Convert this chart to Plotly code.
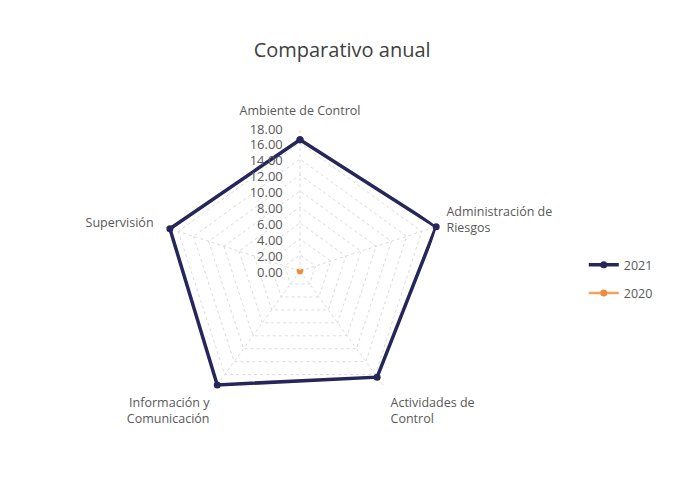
import plotly.graph_objects as go

categories = ["Ambiente de Control", "Administración de<br>Riesgos", "Actividades de<br>Control",
              "Información y<br>Comunicación", "Supervisión"]
values_2021 = [16.4, 17.9, 16.4, 17.6, 17.1]
values_2020 = [0, 0, 0, 0, 0]
radial_ticks = [0, 2, 4, 6, 8, 10, 12, 14, 16, 18]

W, H = 675, 483
cx, cy, R = 292, 263, 144

fig = go.Figure()
fig.add_trace(go.Scatterpolar(
    r=values_2021 + values_2021[:1], theta=categories + categories[:1],
    mode="lines+markers", name="2021", legendgroup="a", cliponaxis=False,
    line=dict(color="#26265a", width=3.5), marker=dict(size=7, color="#26265a")))
fig.add_trace(go.Scatterpolar(
    r=values_2020 + values_2020[:1], theta=categories + categories[:1],
    mode="lines+markers", name="2020", legendgroup="b",
    line=dict(color="#f2a25c", width=2.5),
    marker=dict(size=7, color="#f08a3c")))
# thicker stroke so the all-zero 2020 series shows as a dot at the centre
fig.add_trace(go.Scatterpolar(
    r=values_2020 + values_2020[:1], theta=categories + categories[:1],
    mode="lines", name="2020", legendgroup="b", showlegend=False, hoverinfo="skip",
    line=dict(color="#f08a3c", width=6)))

fig.update_layout(
    width=W, height=H,
    margin=dict(l=0, r=0, t=0, b=0),
    paper_bgcolor="white",
    font=dict(family="Open Sans, Liberation Sans, sans-serif", color="#595959", size=12),
    title=dict(text="Comparativo anual", x=0.495, xanchor="center", y=1 - 42 / H, yanchor="middle",
               font=dict(size=20, color="#404040")),
    polar=dict(
        domain=dict(x=[(cx - R) / W, (cx + R) / W], y=[(H - cy - R) / H, (H - cy + R) / H]),
        bgcolor="white",
        gridshape="linear",
        radialaxis=dict(range=[-0.02, 18], tickvals=radial_ticks, tickformat=".2f", angle=90,
                        side="counterclockwise", showline=False, ticks="outside", ticklen=5,
                        tickcolor="rgba(0,0,0,0)",
                        gridcolor="#dcdcdc", griddash="dot", gridwidth=1,
                        tickfont=dict(size=13, color="#595959")),
        angularaxis=dict(rotation=90, direction="clockwise", showline=False,
                         ticks="outside", ticklen=7, tickcolor="rgba(0,0,0,0)",
                         gridcolor="#dcdcdc", griddash="dot",
                         tickfont=dict(size=12.5, color="#595959")),
    ),
    legend=dict(x=0.853, y=1 - 271 / H, yanchor="middle", xanchor="left", traceorder="grouped",
                font=dict(size=12.5, color="#595959"), tracegroupgap=9, itemwidth=30),
)

fig.write_html("out.html")
